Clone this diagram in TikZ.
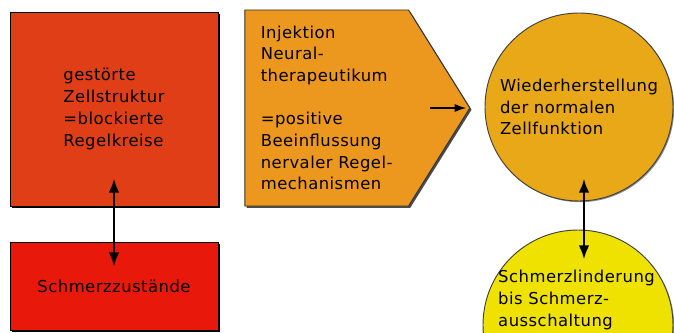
\documentclass[tikz,border=0pt]{standalone}
\usepackage{fontspec}
\setmainfont[LetterSpace=3]{DejaVu Sans}
\usepackage{xcolor}
\usepackage{tikz}
\usetikzlibrary{
  positioning,
  arrows.meta,
  shapes.symbols,
  shadows
}
\definecolor{stoerrot}{RGB}{224,62,22}
\definecolor{schmerzrot}{RGB}{232,24,10}
\definecolor{injorange}{RGB}{236,152,30}
\definecolor{zellgold}{RGB}{232,168,24}
\definecolor{lindergelb}{RGB}{240,226,0}
\tikzset{
  >=Latex,
  redbox/.style={rectangle,draw=black,line width=0.8pt,align=left,inner sep=0pt,
    drop shadow={shadow xshift=2pt,shadow yshift=-2pt,fill=black,opacity=1}},
  injsignal/.style={signal,signal to=east,signal pointer angle=116,draw=black!80,line width=0.8pt,
    fill=injorange,align=left,inner sep=0pt,
    drop shadow={shadow xshift=1.5pt,shadow yshift=-1.5pt,fill=black!70,opacity=1}},
  effectcircle/.style={circle,draw=black!75,line width=0.8pt,align=left,inner sep=0pt,
    drop shadow={shadow xshift=1pt,shadow yshift=-1pt,fill=black!45,opacity=1}},
  dblarrow/.style={{Latex[length=12pt,width=9pt]}-{Latex[length=12pt,width=9pt]},line width=2.2pt},
  tiparrow/.style={-{Latex[length=10pt,width=7pt]},line width=1.3pt}
}
\begin{document}
\begin{tikzpicture}[font=\fontsize{14}{18.5}\selectfont]
    \useasboundingbox (0,0) rectangle (20.22,-9.99);
    \node[redbox,fill=stoerrot,minimum width=6.24cm,minimum height=5.82cm] (stoerung) at (3.42,-3.27) {gestörte\\Zellstruktur\\=blockierte\\Regelkreise};
    \node[redbox,fill=schmerzrot,minimum width=6.24cm,minimum height=2.64cm] (schmerz) at (3.42,-8.58) {Schmerzzustände};
    \draw[dblarrow] ([yshift=0.84cm]stoerung.south) -- ([yshift=-0.75cm]schmerz.north);

    \node[injsignal,minimum width=6.75cm,minimum height=5.88cm] (inj) at (9.8,-3.24) {Injektion\\Neural-\\therapeutikum\\[18.5pt]=positive\\Beeinflussung\\nervaler Regel-\\mechanismen};
    \draw[tiparrow] ([xshift=-1.2cm]inj.east) -- ([xshift=-0.12cm]inj.east);

    \node[effectcircle,fill=zellgold,minimum size=5.64cm] (zelle) at (17.37,-3.21) {Wiederherstellung\\der normalen\\Zellfunktion};
    \node[effectcircle,fill=lindergelb,minimum size=5.7cm] (linderung) at (17.34,-9.75) {};
    \node[anchor=north west,align=left,inner sep=0pt] (lindertext) at (14.94,-8.1) {Schmerzlinderung\\bis Schmerz-\\ausschaltung};
    \draw[dblarrow] ([xshift=0.15cm,yshift=0.69cm]zelle.south) -- ([xshift=0.18cm,yshift=-0.9cm]linderung.north);
\end{tikzpicture}
\end{document}
